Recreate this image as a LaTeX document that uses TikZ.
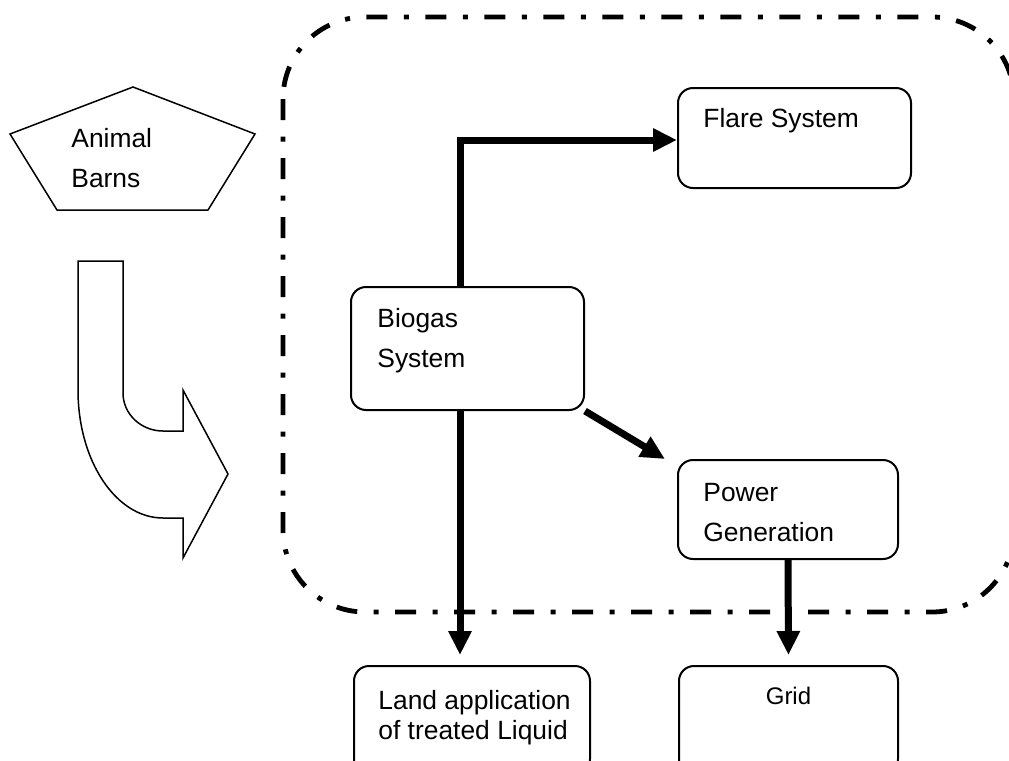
\documentclass[tikz,border=0pt]{standalone}
\usepackage{fontspec}
\setmainfont{Liberation Sans}
\usetikzlibrary{arrows.meta}

\begin{document}
\begin{tikzpicture}[x=0.5pt,y=-0.5pt,
  unit/.style={draw,line width=1pt,rounded corners=7.5pt,inner sep=0pt,anchor=north west},
  txt/.style={inner sep=0pt,anchor=north west,align=left,font=\fontsize{13.2}{20}\selectfont},
  flow/.style={line width=3.5pt,-{Triangle[length=12pt,width=11pt]}},
  zone/.style={line width=2.4pt,dash pattern=on 10.5pt off 8.25pt on 2.5pt off 8.25pt,rounded corners=41pt}]
\useasboundingbox (0,0) rectangle (1009,761);
\clip (0,0) rectangle (1009,761);

% barns and the feed arrow
\draw[line width=0.75pt] (133,87) -- (255,134) -- (208,210) -- (57,210) -- (10,134) -- cycle;
\node[txt] (barns) at (71,128) {Animal\\Barns};
\draw[line width=0.75pt] (78,261) -- (123,261) -- (123,393)
  .. controls (123,414) and (141,431) .. (163,431) -- (183,431) -- (183,390)
  -- (228,474) -- (183,558) -- (183,518) -- (163,518)
  .. controls (116,518) and (78,461) .. (78,390) -- cycle;

% site boundary
\draw[zone] (283,17) rectangle (1014,612);

\node[unit,minimum width=116.5pt,minimum height=50pt] (flare) at (677,87) {};
\node[unit,minimum width=116.5pt,minimum height=61.5pt] (bio) at (350,286) {};
\node[unit,minimum width=110pt,minimum height=49.5pt] (power) at (677,459) {};
\node[unit,minimum width=118pt,minimum height=54pt] (land) at (353,665) {};
\node[unit,minimum width=109.5pt,minimum height=54pt] (grid) at (678,665) {};

\node[txt] (flaretxt) at ([shift={(26,21)}]flare.north west) {Flare System};
\node[txt] (biotxt) at ([shift={(27,22)}]bio.north west) {Biogas\\System};
\node[txt] (powertxt) at ([shift={(26,24)}]power.north west) {Power\\Generation};
\node[txt,font=\fontsize{13.2}{15}\selectfont] (landtxt) at ([shift={(25,25)}]land.north west)
  {Land application\\of treated Liquid};
\node[inner sep=0pt,anchor=north,font=\fontsize{12}{14}\selectfont] (gridtxt)
  at ([shift={(0,22)}]grid.north) {Grid};

\draw[flow] ([shift={(110,0)}]bio.north west) |- ([shift={(0,2)}]flare.west);
\draw[flow] ([shift={(110,0)}]bio.south west) -- ([shift={(107,-10)}]land.north west);
\draw[flow] (bio.south east) -- ([shift={(-12,0)}]power.north west);
\draw[flow] (power.south) -- ([shift={(0,-10)}]grid.north);
\end{tikzpicture}
\end{document}
